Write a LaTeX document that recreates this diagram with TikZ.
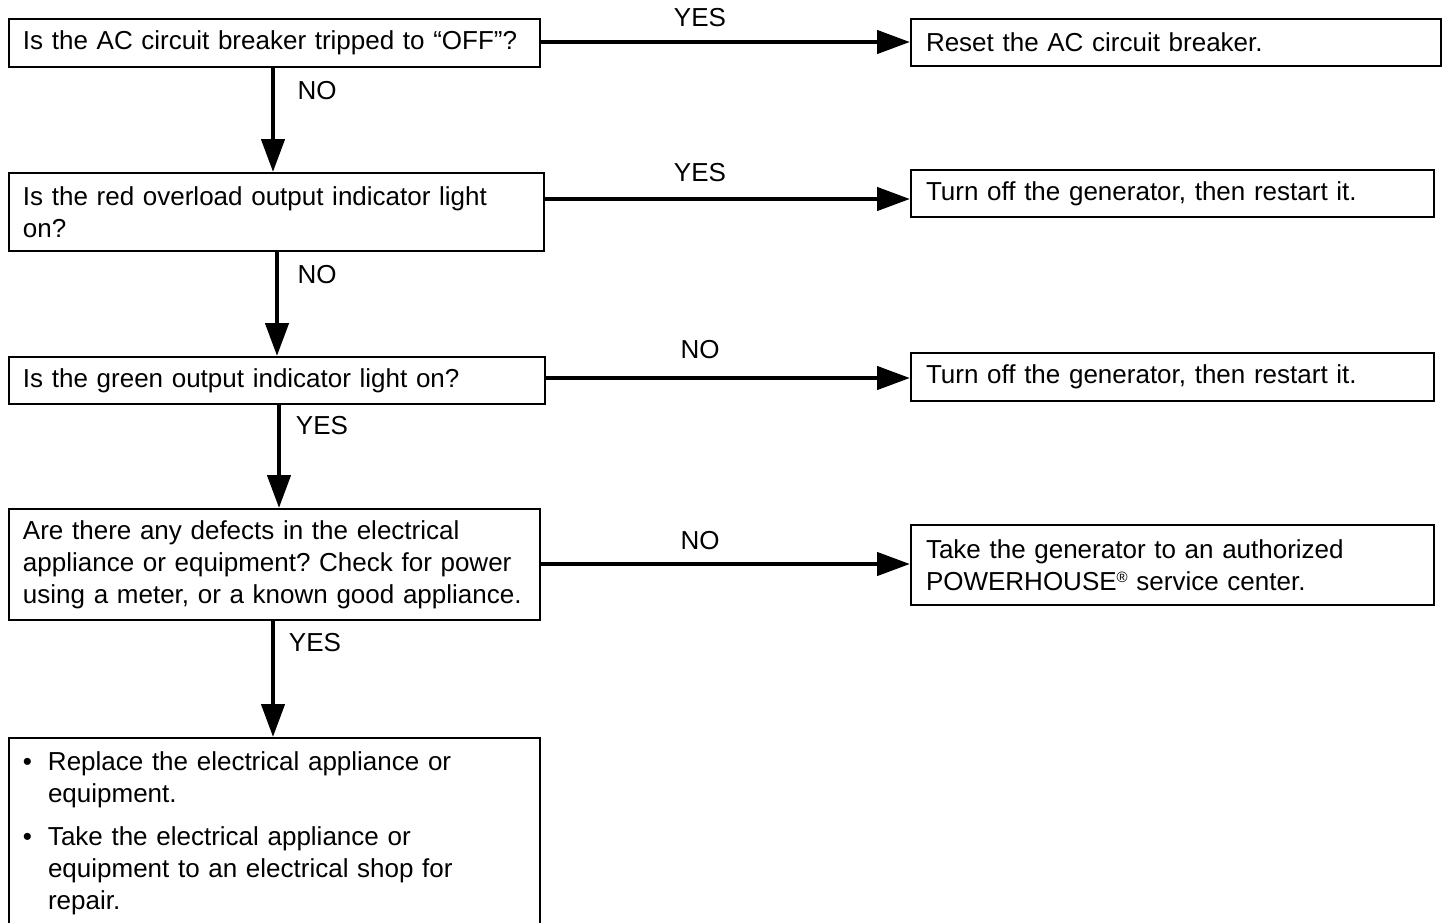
\documentclass[tikz,border=0pt]{standalone}
\usepackage{fontspec}
\setmainfont{Liberation Sans}
\usetikzlibrary{arrows.meta,calc}
\frenchspacing
\tikzset{
  txt/.style={font=\fontsize{26}{32}\selectfont\frenchspacing},
  box/.style={txt, draw, line width=2pt, inner xsep=14pt, inner ysep=0pt, align=left, anchor=north west},
  arr/.style={line width=4.5pt, -{Triangle[length=33pt,width=23pt]}},
  lbl/.style={txt, inner sep=0pt}
}
\begin{document}
\begin{tikzpicture}[x=1pt,y=-1pt]
\useasboundingbox (0,0) rectangle (1448,922);
\fill[white] (0,0) rectangle (1448,922);
\clip (0,0) rectangle (1448,922);

% left column
\node[box, text width=503pt, minimum height=48pt] (b1) at (8,18)
  {\mbox{Is the AC circuit breaker tripped to “OFF”?}};
\node[box, text width=507pt, minimum height=78pt] (b2) at (8,172)
  {\mbox{Is the red overload output indicator light}\\on?};
\node[box, text width=508pt, minimum height=47pt] (b3) at (8,356)
  {\mbox{Is the green output indicator light on?}};
\node[box, text width=503pt, minimum height=111pt] (b4) at (8,508)
  {\mbox{Are there any defects in the electrical}\\
   \mbox{appliance or equipment? Check for power}\\
   \mbox{using a meter, or a known good appliance.}};
\node[box, text width=503pt, inner ysep=14pt] (b5) at (8,737)
  {\makebox[25pt][l]{•}Replace the electrical appliance or\\
   \hspace*{25pt}equipment.\\[11pt]
   \makebox[25pt][l]{•}Take the electrical appliance or\\
   \hspace*{25pt}equipment to an electrical shop for\\
   \hspace*{25pt}repair.\\[30pt]\mbox{}};

% right column
\node[box, inner xsep=15pt, text width=500pt, minimum height=47pt] (r1) at (910,18)
  {Reset the AC circuit breaker.};
\node[box, inner xsep=15pt, text width=493pt, minimum height=47pt] (r2) at (910,169)
  {Turn off the generator, then restart it.};
\node[box, inner xsep=15pt, text width=493pt, minimum height=48pt] (r3) at (910,352)
  {Turn off the generator, then restart it.};
\node[box, inner xsep=15pt, text width=493pt, minimum height=80pt] (r4) at (910,524)
  {Take the generator to an authorized\\
   POWERHOUSE\raisebox{8pt}{\fontsize{15}{15}\selectfont ®} service center.};

% horizontal arrows
\draw[arr] (b1.east |- {0,42}) -- (r1.west |- {0,42});
\draw[arr] (b2.east |- {0,199}) -- (r2.west |- {0,199});
\draw[arr] (b3.east |- {0,378}) -- (r3.west |- {0,378});
\draw[arr] (b4.east |- {0,564}) -- (r4.west |- {0,564});

% vertical arrows
\draw[arr] (b1.south -| {273,0}) -- (b2.north -| {273,0});
\draw[arr] (b2.south -| {277,0}) -- (b3.north -| {277,0});
\draw[arr] (b3.south -| {279,0}) -- (b4.north -| {279,0});
\draw[arr] (b4.south -| {273,0}) -- (b5.north -| {273,0});

% labels
\node[lbl] (l1) at (700,18) {YES};
\node[lbl] (l2) at (700,173) {YES};
\node[lbl] (l3) at (700,350) {NO};
\node[lbl] (l4) at (700,541) {NO};
\node[lbl] (l5) at (317,91) {NO};
\node[lbl] (l6) at (317,275) {NO};
\node[lbl] (l7) at (322,426) {YES};
\node[lbl] (l8) at (315,643) {YES};
\end{tikzpicture}
\end{document}
